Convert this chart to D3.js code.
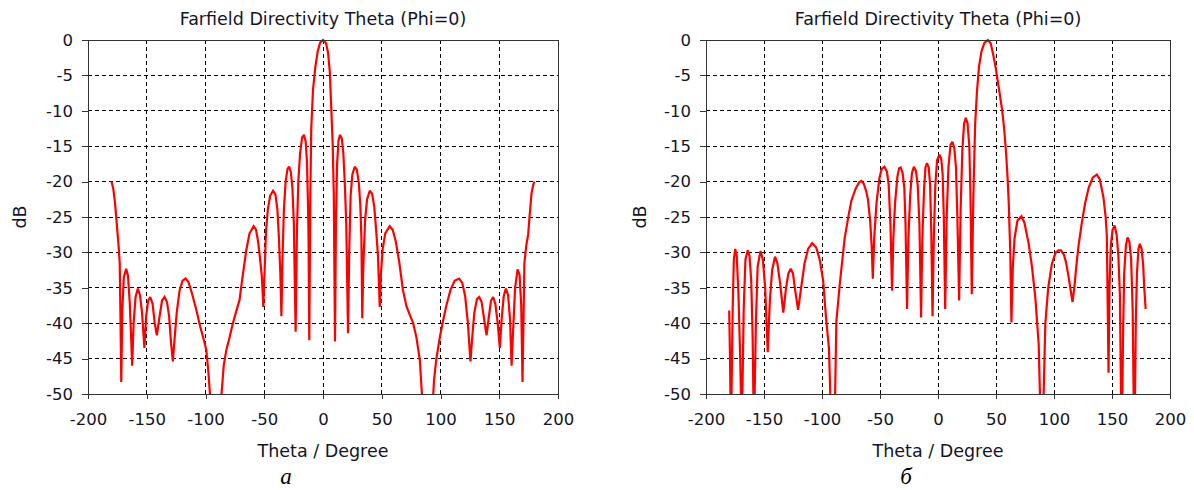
<!DOCTYPE html>
<html>
<head>
<meta charset="utf-8">
<script src="https://cdn.jsdelivr.net/npm/d3@7"></script>
<style>
  html, body { margin: 0; padding: 0; background: #fff; }
  svg { display: block; }
</style>
</head>
<body>
<svg id="chart" width="1194" height="490"></svg>
<script>
// ---------- data ----------
const chartTitle = "Farfield Directivity Theta (Phi=0)";
const xLabel = "Theta / Degree";
const yLabel = "dB";
const panelLetters = ["а", "б"];
const xTicks = [-200, -150, -100, -50, 0, 50, 100, 150, 200];
const yTicks = [0, -5, -10, -15, -20, -25, -30, -35, -40, -45, -50];

// Panel а: theta (deg) and directivity (dB)
const thetaA = [
  -180, -178.5, -177, -175.5, -174, -173, -172.3, -171.7, -170.8, -169.5,
  -167.5, -166, -164.5, -163.3, -162.4, -161.2, -159.5, -157.6, -155.8, -154,
  -152, -150.5, -148.8, -147, -145, -143.2, -141.4, -139.5, -137, -134.8,
  -132.8, -131, -129.2, -127.8, -126.2, -124.5, -122, -119.5, -117, -114.5,
  -111.5, -108, -104.5, -101.5, -99.3, -97.5, -96, -91, -86.6, -84.5,
  -82.3, -79.5, -76.7, -73.8, -71, -68.5, -65.3, -62.5, -59, -57,
  -55.2, -53.5, -52, -50.8, -50, -48.5, -47, -45, -42.5, -40.5,
  -38.8, -37.5, -36.3, -35.4, -34.5, -33.3, -31.8, -30.2, -28.8, -27.3,
  -26, -24.8, -23.3, -22.2, -21, -19.5, -17.8, -16.2, -14.8, -13.7,
  -12.8, -12.3, -11.7, -10.8, -10, -8.5, -6.5, -4.5, -2.5, 0,
  2.5, 4.3, 5.8, 7.1, 8.3, 9.2, 10.2, 11, 12, 13.2,
  14.5, 16, 17.3, 18.5, 19.8, 21.3, 22.3, 23.5, 25, 27,
  28.8, 30.5, 31.8, 32.7, 33.4, 34.3, 35.8, 37.5, 39.8, 41.8,
  43.6, 45.3, 46.8, 48.3, 49.3, 50.8, 53, 56.8, 59.3, 62,
  65, 68, 71, 73.8, 76.7, 79.5, 82.4, 84, 85, 89,
  93.2, 94.5, 96.5, 99.4, 102, 105, 108.5, 112, 115.8, 118.5,
  121, 123.3, 125.5, 127, 128.8, 131, 133, 135, 137, 139.2,
  141, 143, 144.8, 146.7, 148.7, 150.5, 152, 153.8, 155.6, 157.5,
  159.2, 160.5, 161.8, 163.5, 165.6, 167.3, 168.7, 169.8, 170.6, 171.4,
  173, 174.6, 176, 177.5, 179, 180
];
const dbA = [
  -20, -21, -23, -26, -29, -31.5, -40, -48.3, -38, -33.5,
  -32.3, -33.3, -37, -42, -46, -40, -36.3, -35.1, -36, -38.5,
  -43.5, -39, -36.8, -36.3, -37.3, -40, -41.7, -39.5, -36.8, -36.3,
  -37, -39, -43, -45.4, -42, -38.5, -35.3, -34, -33.7, -34.2,
  -35.8, -38, -40.5, -42.3, -43.8, -47, -50.5, -58, -50.5, -46,
  -43.8, -42, -40, -38.3, -36.7, -33.5, -29.7, -27.3, -26.3, -26.8,
  -28.5, -31, -33.5, -37.7, -34, -27, -24, -22, -21.3, -21.8,
  -24, -28, -33, -39, -31, -24, -20, -18.2, -17.9, -18.7,
  -21, -26, -41.2, -27, -20, -16, -13.8, -13.4, -14.3, -17,
  -23, -28, -42.4, -22, -12.5, -7, -3.8, -1.6, -0.4, 0,
  -0.4, -1.8, -4.5, -9.9, -15, -22, -42.6, -26, -17.5, -14.2,
  -13.4, -13.9, -16, -20, -26, -41.4, -30, -22, -19, -17.9,
  -18.3, -20.2, -23.5, -28, -39.3, -32, -25.5, -22.5, -21.3, -21.7,
  -23.5, -27, -30.5, -37.7, -33, -29.5, -27.3, -26.3, -26.8, -28.5,
  -31.5, -35.3, -37.6, -38.8, -40, -42, -45.2, -49.5, -52, -58,
  -52, -48, -45, -42, -39.8, -37.5, -35.3, -34, -33.7, -34.3,
  -36.2, -40, -45.4, -42, -38.5, -36.6, -36.3, -37, -39.3, -41.7,
  -39.3, -36.8, -36.3, -37.3, -40, -43.5, -39.5, -36.2, -35.1, -36,
  -39.5, -46, -41, -35, -32.4, -33.2, -37.5, -48.3, -40, -31.5,
  -29, -27.5, -24.5, -21.6, -20.4, -20
];

// Panel б: theta (deg) and directivity (dB)
const thetaB = [
  -180, -179.3, -178.5, -177, -176, -174.8, -173.5, -172, -170.5, -169.2,
  -167.5, -166, -164, -162.5, -161, -159.8, -158.7, -157, -155.5, -153,
  -151, -149, -146.8, -145, -143, -140.5, -138.5, -136, -133.4, -131,
  -129, -127, -125, -123, -120.6, -118, -115, -112, -108.5, -105,
  -102, -99, -96.3, -94, -92.5, -90, -88.8, -87.6, -84.7, -80.4,
  -77, -74.7, -71, -68, -66, -64, -62, -60.4, -58.5, -57.2,
  -56.2, -55, -53, -50.5, -48.5, -46.2, -44, -42.5, -41, -39.6,
  -38.5, -37, -35, -33.5, -32.2, -30.5, -29, -28, -26.7, -25.5,
  -24, -22.5, -20.8, -19, -17.5, -16, -14.6, -13.5, -12, -10.8,
  -9.5, -8, -6.8, -5.8, -4.7, -3.6, -2.3, -0.8, 1.2, 2.8,
  4, 5, 6.2, 7.5, 9, 10.8, 12.4, 14, 15.5, 16.7,
  18.2, 19.5, 21, 22.5, 24, 25.5, 27, 28, 29.1, 30.5,
  32, 33.5, 35.3, 37.5, 40, 43, 45.5, 47.5, 49.6, 52,
  55.3, 57, 58.7, 60, 61, 62.3, 63.3, 64.5, 66, 68.5,
  71.9, 74.5, 78.2, 81, 83.9, 86.8, 88.2, 89.5, 90.8, 92.5,
  95, 98.2, 101.5, 104, 106, 108.5, 110.5, 112.6, 114.5, 116,
  117.5, 119.5, 121.2, 124, 126.9, 130, 133.5, 136.9, 139.5, 142.6,
  144.5, 145.5, 146.5, 147, 147.8, 149, 150.5, 152.2, 154, 155.5,
  156.8, 157.8, 158.5, 159.5, 160.5, 162, 163.4, 165, 166.5, 167.8,
  168.8, 169.5, 170.5, 171.5, 172.8, 174, 175.5, 176.8, 177.8, 179
];
const dbB = [
  -38.2, -45, -56, -38, -31, -29.5, -30.5, -36, -45, -56,
  -38, -31, -29.7, -30.5, -34, -42, -56, -40, -32, -29.8,
  -31, -35, -44.1, -37, -32.5, -30.6, -31.5, -34.5, -38.5, -35,
  -33, -32.3, -33, -35.5, -38.1, -35, -31.5, -29.5, -28.7, -29.3,
  -31, -34, -39.7, -43.5, -52, -56, -51, -39.7, -34.5, -27.9,
  -24.7, -22.7, -21, -20.1, -19.9, -20.3, -21.3, -22.5, -25.5, -29,
  -33.7, -28, -23, -19.5, -18.2, -17.9, -18.6, -20.5, -26, -35.4,
  -28, -23, -19.3, -18.1, -18, -18.8, -21, -26, -38, -28,
  -22, -18.8, -17.9, -18.5, -20.5, -26, -39.2, -28, -21, -18,
  -17.4, -18, -20.5, -27, -39, -28, -20.5, -17, -16.2, -16.8,
  -19, -25, -38, -25, -18, -14.8, -14.4, -15.2, -18, -25,
  -36.8, -24, -15.5, -11.8, -11, -11.8, -15, -22, -35.9, -22,
  -12, -7.5, -3.8, -1.6, -0.4, 0, -0.5, -2, -3.8, -6.3,
  -9.9, -12.5, -16, -19.5, -23.1, -30, -39.9, -32, -28, -25.5,
  -24.9, -25.8, -28.8, -32, -36.4, -43, -52, -56, -52, -40.1,
  -35, -31.6, -30, -29.7, -29.7, -30.3, -31.5, -33.5, -35.5, -37,
  -35, -31.5, -29, -25.8, -23, -20.8, -19.4, -19, -19.7, -22.2,
  -25, -27.5, -40, -47, -35, -29, -26.8, -26.2, -27.5, -30.5,
  -36, -50.5, -56, -42, -33, -29, -27.9, -28.5, -31, -38,
  -52, -56, -40, -33, -29.5, -28.8, -29.5, -31.6, -35, -38
];

// ---------- drawing ----------
const svg = d3.select("#chart");
svg.append("rect").attr("width", 1194).attr("height", 490).attr("fill", "#fff");

const FONT = "DejaVu Sans";
const TEXT_COLOR = "#141428";
const panels = [
  { theta: thetaA, db: dbA, left: 88, right: 558, top: 40, bottom: 394, letterX: 286, dbX: 20 },
  { theta: thetaB, db: dbB, left: 706, right: 1170, top: 40, bottom: 394, letterX: 906, dbX: 640 }
];

panels.forEach((p, i) => {
  const x = d3.scaleLinear().domain([-200, 200]).range([p.left, p.right]);
  const y = d3.scaleLinear().domain([0, -50]).range([p.top, p.bottom]);
  const g = svg.append("g");
  const cx = (p.left + p.right) / 2;

  // grid
  g.append("g").selectAll("line").data(xTicks.filter(t => t > -200 && t < 200)).join("line")
    .attr("x1", d => x(d)).attr("x2", d => x(d))
    .attr("y1", p.top).attr("y2", p.bottom)
    .attr("stroke", "#000").attr("stroke-width", 1).attr("stroke-dasharray", "4,3")
    .attr("shape-rendering", "crispEdges");
  g.append("g").selectAll("line").data(yTicks.filter(t => t < 0 && t > -50)).join("line")
    .attr("x1", p.left).attr("x2", p.right)
    .attr("y1", d => y(d)).attr("y2", d => y(d))
    .attr("stroke", "#000").attr("stroke-width", 1).attr("stroke-dasharray", "4,3")
    .attr("shape-rendering", "crispEdges");

  // curve (clipped to plot area)
  const clipId = "clip" + i;
  svg.append("clipPath").attr("id", clipId).append("rect")
    .attr("x", p.left).attr("y", p.top - 2)
    .attr("width", p.right - p.left).attr("height", p.bottom - p.top + 2);
  const pts = p.theta.map((t, k) => [t, p.db[k]]);
  const line = d3.line().x(d => x(d[0])).y(d => y(d[1])).curve(d3.curveLinear);
  g.append("path").datum(pts)
    .attr("clip-path", `url(#${clipId})`)
    .attr("d", line)
    .attr("fill", "none").attr("stroke", "#ff0000").attr("stroke-width", 2.2)
    .attr("stroke-linejoin", "miter").attr("stroke-miterlimit", 2);

  // frame
  g.append("rect")
    .attr("x", p.left).attr("y", p.top)
    .attr("width", p.right - p.left).attr("height", p.bottom - p.top)
    .attr("fill", "none").attr("stroke", "#333").attr("stroke-width", 1)
    .attr("shape-rendering", "crispEdges");

  // axes
  const fmt = d => String(d);
  const yAxis = d3.axisLeft(y).tickValues(yTicks).tickSize(6).tickPadding(9).tickFormat(fmt);
  const xAxis = d3.axisBottom(x).tickValues(xTicks).tickSize(5).tickPadding(14).tickFormat(fmt);
  const ya = g.append("g").attr("transform", `translate(${p.left},0)`).call(yAxis);
  const xa = g.append("g").attr("transform", `translate(0,${p.bottom})`).call(xAxis);
  [ya, xa].forEach(a => {
    a.select(".domain").remove();
    a.selectAll(".tick line").attr("stroke", "#333").attr("shape-rendering", "crispEdges");
    a.selectAll(".tick text").attr("fill", TEXT_COLOR).attr("font-family", FONT).attr("font-size", 16.5);
  });

  // title
  g.append("text").attr("x", cx).attr("y", 25).attr("text-anchor", "middle")
    .attr("font-family", FONT).attr("font-size", 17.5).attr("fill", TEXT_COLOR).text(chartTitle);
  // x label
  g.append("text").attr("x", cx).attr("y", 457).attr("text-anchor", "middle")
    .attr("font-family", FONT).attr("font-size", 17.5).attr("fill", TEXT_COLOR).text(xLabel);
  // y label
  g.append("text").attr("transform", `translate(${p.dbX + 6},217) rotate(-90)`)
    .attr("text-anchor", "middle")
    .attr("font-family", FONT).attr("font-size", 17.5).attr("fill", TEXT_COLOR).text(yLabel);
  // panel letter
  g.append("text").attr("x", p.letterX).attr("y", 484).attr("text-anchor", "middle")
    .attr("font-family", "Liberation Serif").attr("font-style", "italic").attr("font-size", 23)
    .attr("fill", "#000").text(panelLetters[i]);
});
</script>
</body>
</html>
